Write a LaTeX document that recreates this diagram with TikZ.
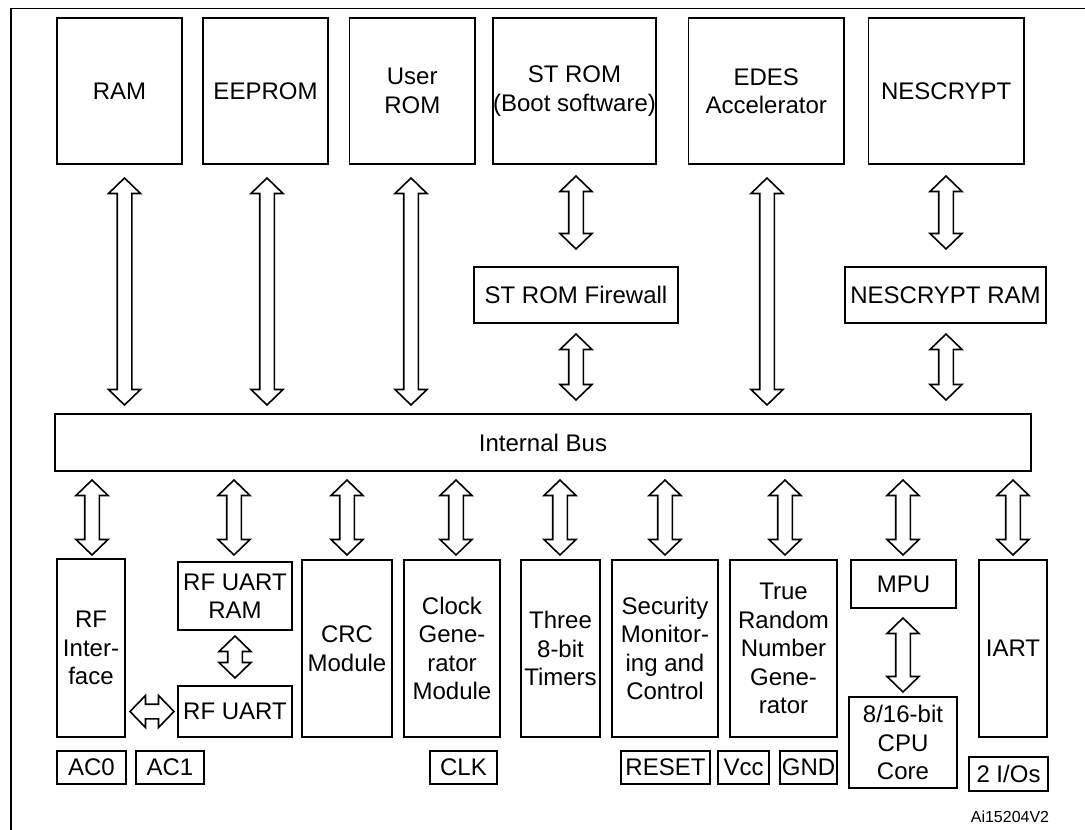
\documentclass[tikz,border=0pt]{standalone}
\usepackage{fontspec}
\setmainfont{Liberation Sans}
\usetikzlibrary{calc}
\tikzset{
  blk/.style={draw, line width=1.6pt, inner sep=0pt, outer sep=0pt, align=center,
    font=\fontsize{24}{28.5}\selectfont},
  busarrow/.style={draw, line width=1.6pt, line join=miter, fill=white},
  frameline/.style={draw, line width=1.5pt},
  smalltext/.style={inner sep=0pt, font=\fontsize{16}{18}\selectfont}
}
% \bx{name}{x1}{x2}{y1}{y2}{text}
\newcommand\bx[6]{\node[blk, minimum width={#3pt-#2pt}, minimum height={#5pt-#4pt}] (#1) at ({(#2+#3)/2},{(#4+#5)/2}) {#6};}
% \varrow{top node}{gap}{bottom node}{gap}{x}
\newcommand\varrow[5]{%
  \draw[busarrow] let \p1=(#1.south), \p2=(#3.north) in
    ({#5pt},{\y1-#2pt}) -- ++(16pt,-15.5pt) -- ++(-8.7pt,0pt)
    -- ({#5pt+7.3pt},{\y2+#4pt+15.5pt}) -- ++(8.7pt,0pt) -- ({#5pt},{\y2+#4pt})
    -- ++(-16pt,15.5pt) -- ++(8.7pt,0pt) -- ({#5pt-7.3pt},{\y1-#2pt-15.5pt})
    -- ++(-8.7pt,0pt) -- cycle;}
% \harrow{left node}{gap}{right node}{gap}
\newcommand\harrow[4]{%
  \draw[busarrow] let \p1=(#1.east), \p2=(#3.west) in
    ({\x1+#2pt},\y2) -- ++(15.5pt,16pt) -- ++(0pt,-8.7pt)
    -- ({\x2-#4pt-15.5pt},{\y2+7.3pt}) -- ++(0pt,8.7pt) -- ({\x2-#4pt},\y2)
    -- ++(-15.5pt,-16pt) -- ++(0pt,8.7pt) -- ({\x1+#2pt+15.5pt},{\y2-7.3pt})
    -- ++(0pt,-8.7pt) -- cycle;}
\begin{document}
\begin{tikzpicture}[x=1pt,y=-1pt]
\useasboundingbox (0,0) rectangle (1085,830);
\draw[frameline] (11,8.5) rectangle (1100,845);

% top row
\bx{ram}{57}{182}{18}{164}{RAM}
\bx{eeprom}{203}{328}{18}{164}{EEPROM}
\bx{urom}{349.5}{475}{18}{164}{User\\ROM}
\bx{strom}{497}{652}{18}{164}{ST ROM\\(Boot software)}
\bx{edes}{688.5}{844}{18}{164}{EDES\\Accelerator}
\bx{nes}{868.5}{1024}{18}{164}{NESCRYPT}

\bx{fw}{474}{678}{267}{323}{ST ROM Firewall}
\bx{nesram}{845}{1046}{267}{323}{NESCRYPT RAM}

\bx{bus}{55}{1031}{414}{471}{Internal Bus}

% bottom row
\bx{rfif}{57}{125}{559}{737}{RF\\Inter-\\face}
\bx{rfram}{178}{292}{562}{630}{RF UART\\RAM}
\bx{rfuart}{178}{292}{686}{737}{RF UART}
\bx{crc}{302}{392}{560}{737}{CRC\\Module}
\bx{clk}{404}{500}{560}{737}{Clock\\Gene-\\rator\\Module}
\bx{tim}{521}{600}{560}{737}{Three\\8-bit\\Timers}
\bx{sec}{612}{718}{560}{737}{Security\\Monitor-\\ing and\\Control}
\bx{trng}{730}{837}{560}{737}{True\\Random\\Number\\Gene-\\rator}
\bx{mpu}{851}{956}{560}{608}{MPU}
\bx{cpu}{849}{957}{697}{788}{8/16-bit\\CPU\\Core}
\bx{iart}{979}{1047}{560}{737}{IART}

% pins
\bx{ac0}{57}{126}{751}{784}{AC0}
\bx{ac1}{136}{204}{751}{784}{AC1}
\bx{clkpin}{430}{497}{751}{784}{CLK}
\bx{reset}{621}{710}{751}{784}{RESET}
\bx{vcc}{718}{769}{751}{784}{Vcc}
\bx{gnd}{780}{837}{751}{784}{GND}
\bx{io}{969}{1048}{757}{791}{2 I/Os}

\node[smalltext] (ref) at (1010,817) {Ai15204V2};

% upper arrows
\varrow{ram}{14}{bus}{9}{124.5}
\varrow{eeprom}{14}{bus}{9}{267}
\varrow{urom}{14}{bus}{9}{411}
\varrow{edes}{14}{bus}{9}{767}
\varrow{strom}{12}{fw}{18}{576}
\varrow{fw}{11}{bus}{14}{576}
\varrow{nes}{12}{nesram}{18}{946}
\varrow{nesram}{11}{bus}{14}{946}

% lower arrows
\varrow{bus}{9}{rfif}{4}{92}
\varrow{bus}{9}{rfram}{7}{234}
\varrow{bus}{9}{crc}{5}{347}
\varrow{bus}{9}{clk}{5}{456}
\varrow{bus}{9}{tim}{5}{560}
\varrow{bus}{9}{sec}{5}{665}
\varrow{bus}{9}{trng}{5}{785}
\varrow{bus}{9}{mpu}{5}{903}
\varrow{bus}{9}{iart}{5}{1013}

\varrow{rfram}{6}{rfuart}{8}{235}
\varrow{mpu}{10}{cpu}{5}{903}
\harrow{rfif}{5}{rfuart}{4}
\end{tikzpicture}
\end{document}
